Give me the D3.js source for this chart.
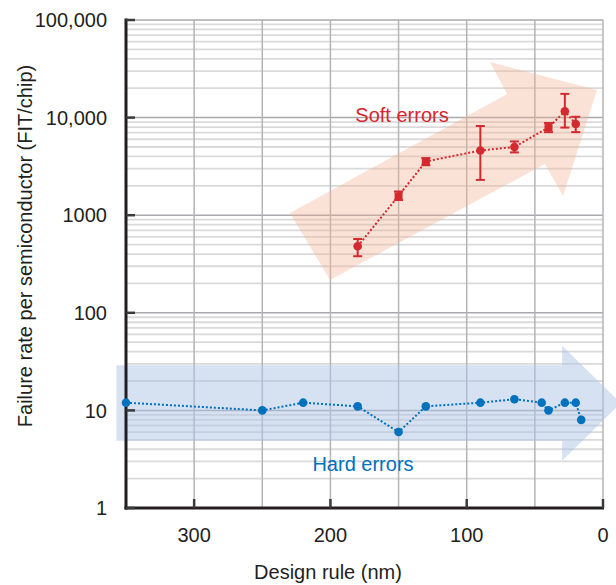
<!DOCTYPE html>
<html>
<head>
<meta charset="utf-8">
<script src="https://cdn.jsdelivr.net/npm/d3@7"></script>
<style>
  html, body { margin: 0; padding: 0; background: #fff; }
  svg { display: block; }
  text { font-family: "Liberation Sans", Arial, Helvetica, sans-serif; }
</style>
</head>
<body>
<svg id="chart" width="616" height="585"></svg>
<script>
// ---- Data ----
const xTicks = [300, 200, 100, 0];
const xGrid = [300, 250, 200, 150, 100, 50, 0];
const yTicks = [1, 10, 100, 1000, 10000, 100000];
const yTickLabels = ["1", "10", "100", "1000", "10,000", "100,000"];

const hardNm  = [350, 250, 220, 180, 150, 130, 90, 65, 45, 40, 28, 20, 16];
const hardVal = [12, 10, 12, 11, 6, 11, 12, 13, 12, 10, 12, 12, 8];

const softNm     = [180, 150, 130, 90, 65, 40, 28, 20];
const softVal    = [480, 1580, 3550, 4600, 5000, 7900, 11600, 8600];
const softLow    = [380, 1430, 3250, 2300, 4400, 7100, 7900, 7100];
const softHigh   = [570, 1750, 3850, 8200, 5700, 8800, 17500, 10200];
const softMarker = ["circle", "square", "square", "circle", "circle", "square", "circle", "circle"];

// decorative trend arrows, in data coordinates (nm, FIT)
const softArrowNm  = [229.7, 70.4, 82.9, 4.4, 29.3, 42.6, 200.3];
const softArrowVal = [1053, 17450, 37150, 19180, 1574, 3346, 217];
const hardArrowNm  = [357, 30, 30, -13, 30, 30, 357];
const hardArrowVal = [29, 29, 46, 11.9, 3.05, 4.88, 4.88];

const labels = { x: "Design rule (nm)", y: "Failure rate per semiconductor (FIT/chip)", soft: "Soft errors", hard: "Hard errors" };

// ---- Setup ----
const svg = d3.select("#chart");
const x = d3.scaleLinear().domain([350, 0]).range([126, 603]);
const y = d3.scaleLog().domain([1, 100000]).range([508, 20]);

const RED = "#d42a2f", BLUE = "#0071bc", INK = "#231f20";

// ---- Grid ----
const minor = [];
for (let d = 1; d < 100000; d *= 10) for (let k = 2; k <= 9; k++) minor.push(d * k);
const grid = svg.append("g");
grid.selectAll("line.minor").data(minor).join("line")
  .attr("x1", x(350)).attr("x2", x(0))
  .attr("y1", d => y(d)).attr("y2", d => y(d))
  .attr("stroke", "#dadada").attr("stroke-width", 1.8);
grid.selectAll("line.major").data(yTicks).join("line")
  .attr("x1", x(350)).attr("x2", x(0))
  .attr("y1", d => y(d)).attr("y2", d => y(d))
  .attr("stroke", "#a9a9ad").attr("stroke-width", 1.5);
grid.selectAll("line.v").data(xGrid).join("line")
  .attr("x1", d => x(d)).attr("x2", d => x(d))
  .attr("y1", y(100000)).attr("y2", y(1))
  .attr("stroke", "#b4b4b8").attr("stroke-width", 1.5);

// ---- Arrows ----
const arrowLine = (nms, vals) => d3.line()(nms.map((n, i) => [x(n), y(vals[i])])) + "Z";
svg.append("path").attr("d", arrowLine(softArrowNm, softArrowVal))
  .attr("fill", "#f2b397").attr("fill-opacity", 0.38);
svg.append("path").attr("d", arrowLine(hardArrowNm, hardArrowVal))
  .attr("fill", "#aec3e6").attr("fill-opacity", 0.5);

// ---- Axes ----
const ax = svg.append("g");
ax.append("line").attr("x1", x(350)).attr("x2", x(350)).attr("y1", y(100000) - 1.5).attr("y2", y(1) + 1.5)
  .attr("stroke", INK).attr("stroke-width", 3);
ax.append("line").attr("x1", x(350) - 1.5).attr("x2", x(0) + 1).attr("y1", y(1)).attr("y2", y(1))
  .attr("stroke", INK).attr("stroke-width", 3);
ax.selectAll("line.yt").data(yTicks).join("line")
  .attr("x1", x(350)).attr("x2", x(350) + 9)
  .attr("y1", d => y(d)).attr("y2", d => y(d))
  .attr("stroke", "#3a3a3c").attr("stroke-width", 2.5);
ax.selectAll("line.xt").data(xTicks).join("line")
  .attr("x1", d => x(d)).attr("x2", d => x(d))
  .attr("y1", y(1)).attr("y2", y(1) - 9)
  .attr("stroke", "#3a3a3c").attr("stroke-width", 2.5);

ax.selectAll("text.yl").data(yTicks).join("text")
  .attr("x", 107).attr("y", d => y(d)).attr("dy", "0.36em")
  .attr("text-anchor", "end").attr("font-size", 20).attr("fill", INK)
  .text((d, i) => yTickLabels[i]);
ax.selectAll("text.xl").data(xTicks).join("text")
  .attr("x", d => x(d)).attr("y", 541.5)
  .attr("text-anchor", "middle").attr("font-size", 20).attr("fill", INK)
  .text(d => d);
ax.append("text").attr("x", 328).attr("y", 579).attr("text-anchor", "middle")
  .attr("font-size", 20).attr("fill", INK).text(labels.x);
ax.append("text").attr("transform", "translate(32,246) rotate(-90)")
  .attr("text-anchor", "middle").attr("font-size", 20).attr("fill", INK).text(labels.y);

// ---- Hard errors ----
const hard = hardNm.map((n, i) => ({ n, v: hardVal[i] }));
svg.append("path").datum(hard)
  .attr("d", d3.line().x(d => x(d.n)).y(d => y(d.v)))
  .attr("fill", "none").attr("stroke", BLUE).attr("stroke-width", 2).attr("stroke-dasharray", "2,2");
svg.selectAll("circle.hard").data(hard).join("circle")
  .attr("cx", d => x(d.n)).attr("cy", d => y(d.v)).attr("r", 4.3).attr("fill", BLUE);

// ---- Soft errors ----
const soft = softNm.map((n, i) => ({ n, v: softVal[i], lo: softLow[i], hi: softHigh[i], m: softMarker[i] }));
svg.append("path").datum(soft)
  .attr("d", d3.line().x(d => x(d.n)).y(d => y(d.v)))
  .attr("fill", "none").attr("stroke", RED).attr("stroke-width", 2).attr("stroke-dasharray", "2,2");
const eb = svg.append("g").attr("stroke", RED).attr("stroke-width", 2);
soft.forEach(d => {
  eb.append("line").attr("x1", x(d.n)).attr("x2", x(d.n)).attr("y1", y(d.lo)).attr("y2", y(d.hi));
  [d.lo, d.hi].forEach(v => eb.append("line")
    .attr("x1", x(d.n) - 4.5).attr("x2", x(d.n) + 4.5).attr("y1", y(v)).attr("y2", y(v)));
});
svg.selectAll("circle.soft").data(soft.filter(d => d.m === "circle")).join("circle")
  .attr("cx", d => x(d.n)).attr("cy", d => y(d.v)).attr("r", 4.3).attr("fill", RED);
svg.selectAll("rect.soft").data(soft.filter(d => d.m === "square")).join("rect")
  .attr("x", d => x(d.n) - 4).attr("y", d => y(d.v) - 3.5).attr("width", 8).attr("height", 7).attr("fill", RED);

// ---- Series labels ----
svg.append("text").attr("x", 402).attr("y", 122).attr("text-anchor", "middle")
  .attr("font-size", 20).attr("fill", "#d8262e").text(labels.soft);
svg.append("text").attr("x", 363).attr("y", 471).attr("text-anchor", "middle")
  .attr("font-size", 20).attr("fill", BLUE).text(labels.hard);
</script>
</body>
</html>
